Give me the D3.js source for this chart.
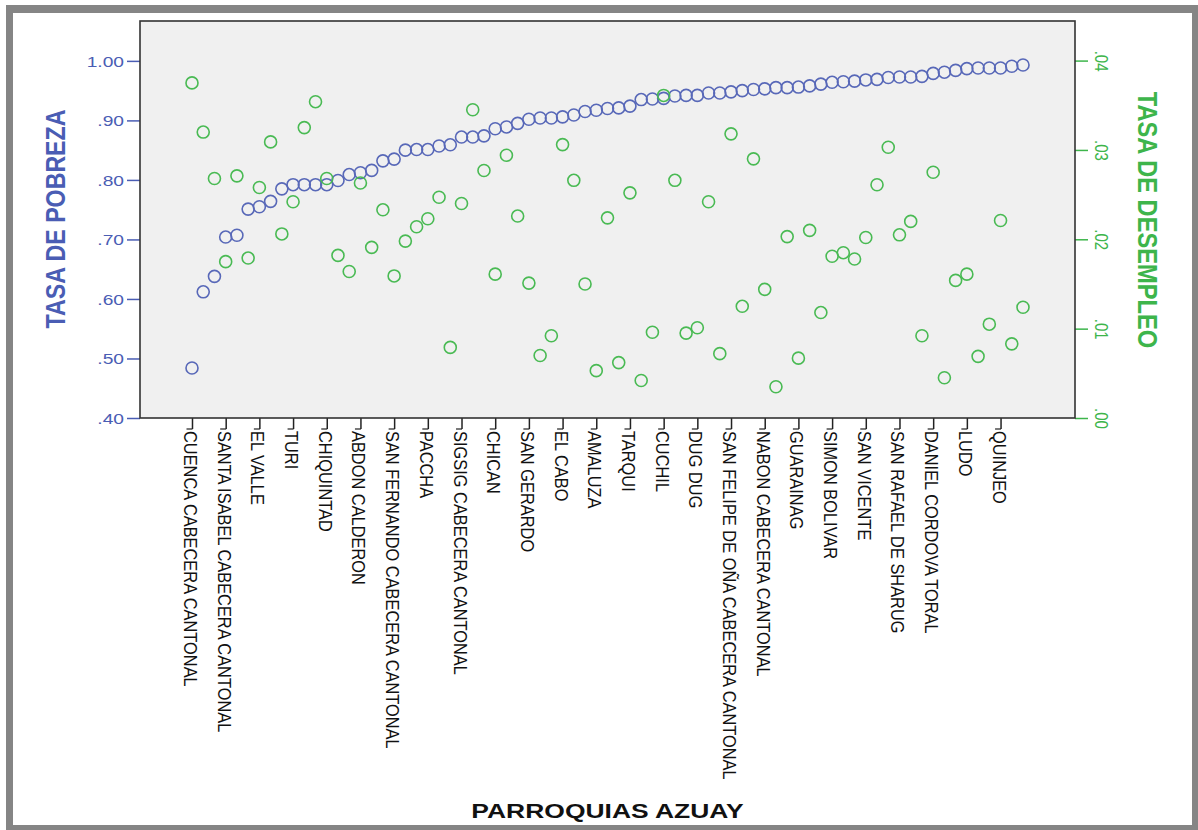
<!DOCTYPE html>
<html>
<head>
<meta charset="utf-8">
<script src="https://cdn.jsdelivr.net/npm/d3@7"></script>
<style>
  html, body { margin: 0; padding: 0; background: #ffffff; }
  svg { display: block; }
  text { font-family: "Liberation Sans", Arial, sans-serif; }
</style>
</head>
<body>
<svg id="chart" width="1198" height="830"></svg>
<script>
// Parishes of Azuay ordered by poverty rate; every third one carries a label
const tickLabels = [
  "CUENCA CABECERA CANTONAL", "SANTA ISABEL CABECERA CANTONAL", "EL VALLE", "TURI",
  "CHIQUINTAD", "ABDON CALDERON", "SAN FERNANDO CABECERA CANTONAL", "PACCHA",
  "SIGSIG CABECERA CANTONAL", "CHICAN", "SAN GERARDO", "EL CABO", "AMALUZA",
  "TARQUI", "CUCHIL", "DUG DUG", "SAN FELIPE DE OÑA CABECERA CANTONAL",
  "NABON CABECERA CANTONAL", "GUARAINAG", "SIMON BOLIVAR", "SAN VICENTE",
  "SAN RAFAEL DE SHARUG", "DANIEL CORDOVA TORAL", "LUDO", "QUINJEO"
];

// Tasa de pobreza (left axis), one value per parish
const tasaPobreza = [
  0.484, 0.612, 0.638, 0.704, 0.707, 0.751, 0.755, 0.764, 0.785, 0.792,
  0.792, 0.792, 0.792, 0.799, 0.809, 0.812, 0.816, 0.832, 0.835, 0.850,
  0.851, 0.851, 0.857, 0.859, 0.872, 0.872, 0.874, 0.886, 0.889, 0.895,
  0.902, 0.904, 0.904, 0.906, 0.909, 0.915, 0.917, 0.920, 0.921, 0.924,
  0.935, 0.936, 0.937, 0.941, 0.942, 0.942, 0.946, 0.946, 0.948, 0.950,
  0.952, 0.953, 0.955, 0.955, 0.956, 0.958, 0.961, 0.964, 0.965, 0.966,
  0.968, 0.969, 0.972, 0.973, 0.973, 0.974, 0.979, 0.981, 0.984, 0.987,
  0.988, 0.988, 0.988, 0.991, 0.993
];

// Tasa de desempleo (right axis), same parish order
const tasaDesempleo = [
  0.0375, 0.0320, 0.0268, 0.0175, 0.0271, 0.0179, 0.0258, 0.0309, 0.0206, 0.0242,
  0.0325, 0.0354, 0.0268, 0.0182, 0.0164, 0.0263, 0.0191, 0.0233, 0.0159, 0.0198,
  0.0214, 0.0223, 0.0247, 0.0079, 0.0240, 0.0345, 0.0277, 0.0161, 0.0294, 0.0226,
  0.0151, 0.0070, 0.0092, 0.0306, 0.0266, 0.0150, 0.0053, 0.0224, 0.0062, 0.0252,
  0.0042, 0.0096, 0.0361, 0.0266, 0.0095, 0.0101, 0.0242, 0.0072, 0.0318, 0.0125,
  0.0290, 0.0144, 0.0035, 0.0203, 0.0067, 0.0210, 0.0118, 0.0181, 0.0185, 0.0178,
  0.0202, 0.0261, 0.0303, 0.0205, 0.0220, 0.0092, 0.0275, 0.0045, 0.0154, 0.0161,
  0.0069, 0.0105, 0.0221, 0.0083, 0.0124
];

const leftTicks = [0.40, 0.50, 0.60, 0.70, 0.80, 0.90, 1.00];
const rightTicks = [0.00, 0.01, 0.02, 0.03, 0.04];

const BLUE = "#4a5db4";
const BLUE_MARK = "#5868b8";
const GREEN = "#3db54b";
const GREEN_MARK = "#49ba53";

const svg = d3.select("#chart");
const W = 1198, H = 830;

// outer gray frame
svg.append("rect").attr("x", 6).attr("y", 5).attr("width", W - 6).attr("height", H - 5)
  .attr("fill", "#858585");
svg.append("rect").attr("x", 13).attr("y", 13).attr("width", 1192 - 13).attr("height", 825 - 13)
  .attr("fill", "#ffffff");

const plot = { left: 140, right: 1075, top: 21, bottom: 418 };

const index = d3.range(tasaPobreza.length);
const x = d3.scalePoint().domain(index).range([plot.left, plot.right]).padding(4.63);
const yL = d3.scaleLinear().domain([0.40, 1.067]).range([plot.bottom, plot.top]);
const yR = d3.scaleLinear().domain([0, 0.04443]).range([plot.bottom, plot.top]);

// plot background
svg.append("rect")
  .attr("x", plot.left).attr("y", plot.top)
  .attr("width", plot.right - plot.left).attr("height", plot.bottom - plot.top)
  .attr("fill", "#f0f0f0");

const fmt = d => d >= 1 ? d3.format(".2f")(d) : d3.format(".2f")(d).replace(/^0/, "");

// left axis
const gL = svg.append("g").attr("transform", `translate(${plot.left},0)`)
  .call(d3.axisLeft(yL).tickValues(leftTicks).tickSize(13).tickFormat(fmt));
gL.select(".domain").remove();
gL.selectAll(".tick line").attr("stroke", BLUE).attr("stroke-width", 1.5);
gL.selectAll(".tick text")
  .attr("x", null).attr("dy", null)
  .attr("transform", "translate(-16,0) scale(1.28,1)")
  .attr("text-anchor", "end")
  .attr("dominant-baseline", "central")
  .attr("fill", BLUE)
  .style("font-size", "15px");

// right axis
const gR = svg.append("g").attr("transform", `translate(${plot.right},0)`)
  .call(d3.axisRight(yR).tickValues(rightTicks).tickSize(13).tickFormat(fmt));
gR.select(".domain").remove();
gR.selectAll(".tick line").attr("stroke", GREEN).attr("stroke-width", 1.5);
gR.selectAll(".tick text")
  .attr("x", null).attr("dy", null)
  .attr("transform", "translate(20,0) scale(1.25,1) rotate(90)")
  .attr("text-anchor", "middle")
  .attr("fill", GREEN)
  .style("font-size", "15px");

// bottom axis, labelled every third parish
const labelledIdx = d3.range(0, tasaPobreza.length, 3);
const gX = svg.append("g").attr("transform", `translate(0,${plot.bottom})`)
  .call(d3.axisBottom(x).tickValues(labelledIdx).tickSize(11)
    .tickFormat((d, i) => tickLabels[i]));
gX.select(".domain").remove();
gX.selectAll(".tick line").attr("stroke", "#222").attr("stroke-width", 1.5);
gX.selectAll(".tick").append("line")
  .attr("x1", -6).attr("x2", 0).attr("y1", 11).attr("y2", 11)
  .attr("stroke", "#222").attr("stroke-width", 1.2);
gX.selectAll(".tick text")
  .attr("x", null).attr("y", null).attr("dy", null)
  .attr("transform", "translate(-8.5,13) scale(1.12,1) rotate(90)")
  .attr("text-anchor", "start")
  .attr("fill", "#111")
  .style("font-size", "16.4px");

// plot border
svg.append("rect")
  .attr("x", plot.left).attr("y", plot.top)
  .attr("width", plot.right - plot.left).attr("height", plot.bottom - plot.top)
  .attr("fill", "none").attr("stroke", "#333").attr("stroke-width", 1.6);

// poverty markers
svg.append("g").selectAll("circle").data(tasaPobreza).join("circle")
  .attr("cx", (d, i) => x(i)).attr("cy", d => yL(d)).attr("r", 6)
  .attr("fill", "none").attr("stroke", BLUE_MARK).attr("stroke-width", 1.6);

// unemployment markers
svg.append("g").selectAll("circle").data(tasaDesempleo).join("circle")
  .attr("cx", (d, i) => x(i)).attr("cy", d => yR(d)).attr("r", 6)
  .attr("fill", "none").attr("stroke", GREEN_MARK).attr("stroke-width", 1.6);

// axis titles
svg.append("text")
  .attr("transform", "translate(65,219) scale(1.2,1) rotate(-90)")
  .attr("text-anchor", "middle")
  .attr("fill", BLUE).style("font-size", "23.2px").style("font-weight", "bold")
  .text("TASA DE POBREZA");

svg.append("text")
  .attr("transform", "translate(1138,220) scale(1.2,1) rotate(90)")
  .attr("text-anchor", "middle")
  .attr("fill", GREEN).style("font-size", "23.7px").style("font-weight", "bold")
  .text("TASA DE DESEMPLEO");

svg.append("text")
  .attr("transform", "translate(607.5,818) scale(1.26,1)")
  .attr("text-anchor", "middle")
  .attr("fill", "#111").style("font-size", "21px").style("font-weight", "bold")
  .text("PARROQUIAS AZUAY");
</script>
</body>
</html>
